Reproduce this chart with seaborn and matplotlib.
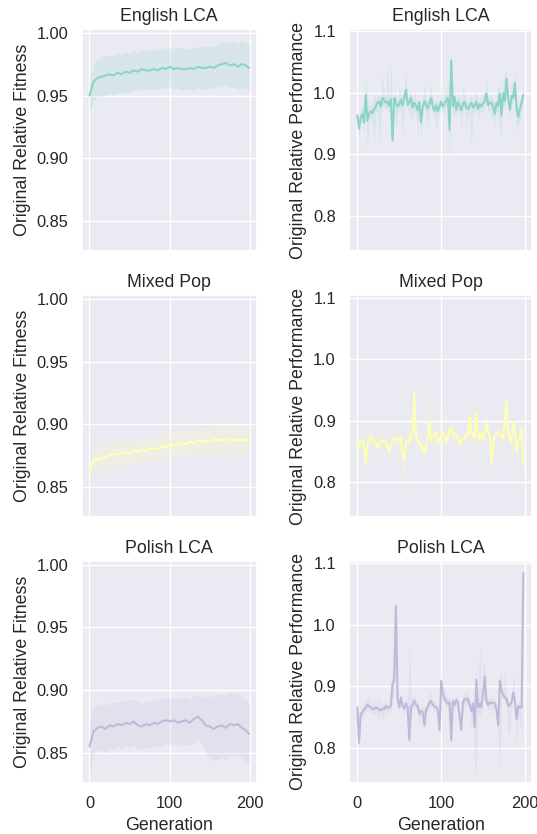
import matplotlib
matplotlib.use("Agg")
import matplotlib.pyplot as plt
import seaborn as sns

# ---- data ----
titles = ["English LCA", "Mixed Pop", "Polish LCA"]

# left column: mean relative fitness (sampled every 5 generations) and CI half-width
fit_gen = [0, 5, 10, 15, 20, 25, 30, 35, 40, 45, 50, 55, 60, 65, 70, 75, 80, 85, 90, 95,
           100, 105, 110, 115, 120, 125, 130, 135, 140, 145, 150, 155, 160, 165, 170, 175,
           180, 185, 190, 195, 199]

eng_fit = [0.950, 0.961, 0.964, 0.965, 0.966, 0.967, 0.966, 0.968, 0.967, 0.969,
           0.968, 0.970, 0.969, 0.971, 0.970, 0.970, 0.971, 0.970, 0.972, 0.971,
           0.973, 0.971, 0.972, 0.971, 0.971, 0.972, 0.971, 0.973, 0.972, 0.972,
           0.973, 0.972, 0.974, 0.975, 0.976, 0.974, 0.975, 0.973, 0.975, 0.974, 0.972]
eng_fit_err = [0.013, 0.014, 0.015, 0.016, 0.016, 0.015, 0.016, 0.016, 0.015, 0.016,
               0.016, 0.016, 0.015, 0.016, 0.016, 0.015, 0.016, 0.016, 0.016, 0.015,
               0.016, 0.016, 0.016, 0.017, 0.016, 0.016, 0.017, 0.016, 0.017, 0.017,
               0.016, 0.017, 0.017, 0.018, 0.017, 0.018, 0.018, 0.018, 0.019, 0.018, 0.019]

mix_fit = [0.864, 0.871, 0.872, 0.873, 0.874, 0.875, 0.876, 0.876, 0.877, 0.878,
           0.877, 0.879, 0.878, 0.880, 0.879, 0.880, 0.881, 0.880, 0.882, 0.882,
           0.884, 0.883, 0.884, 0.885, 0.884, 0.886, 0.885, 0.887, 0.886, 0.887,
           0.886, 0.888, 0.887, 0.888, 0.887, 0.889, 0.887, 0.888, 0.887, 0.888, 0.887]
mix_fit_err = [0.008, 0.009, 0.010, 0.010, 0.010, 0.010, 0.010, 0.010, 0.010, 0.010,
               0.010, 0.010, 0.010, 0.010, 0.010, 0.010, 0.010, 0.010, 0.010, 0.010,
               0.010, 0.010, 0.010, 0.011, 0.010, 0.011, 0.010, 0.011, 0.011, 0.011,
               0.011, 0.011, 0.011, 0.011, 0.011, 0.011, 0.011, 0.011, 0.011, 0.011, 0.011]

pol_fit = [0.855, 0.867, 0.870, 0.871, 0.869, 0.872, 0.871, 0.873, 0.872, 0.874,
           0.873, 0.875, 0.872, 0.871, 0.873, 0.872, 0.874, 0.873, 0.875, 0.876,
           0.875, 0.876, 0.874, 0.875, 0.876, 0.874, 0.877, 0.879, 0.876, 0.872,
           0.871, 0.869, 0.871, 0.872, 0.870, 0.873, 0.872, 0.873, 0.870, 0.868, 0.865]
pol_fit_err = [0.021, 0.019, 0.018, 0.018, 0.019, 0.018, 0.019, 0.018, 0.019, 0.018,
               0.019, 0.018, 0.019, 0.018, 0.019, 0.018, 0.019, 0.018, 0.019, 0.018,
               0.019, 0.018, 0.019, 0.018, 0.019, 0.018, 0.019, 0.018, 0.018, 0.022,
               0.026, 0.025, 0.026, 0.025, 0.026, 0.025, 0.024, 0.025, 0.024, 0.025, 0.024]

# right column: mean relative performance every 2 generations, band above / below the mean
perf_gen = list(range(0, 200, 2))

eng_perf = [0.964, 0.942, 0.960, 0.966, 0.952, 0.997, 0.955, 0.966, 0.970, 0.967,
            0.973, 0.978, 0.984, 0.986, 0.978, 0.992, 0.988, 0.984, 0.986, 0.979,
            0.990, 0.923, 0.992, 0.984, 0.978, 0.982, 0.989, 0.980, 0.994, 1.005,
            0.981, 0.985, 0.992, 0.976, 0.984, 0.980, 0.972, 0.985, 0.952, 0.978,
            0.987, 0.980, 0.975, 0.983, 0.992, 0.978, 0.971, 0.980, 0.970, 0.978,
            0.986, 0.978, 0.982, 0.988, 0.992, 0.940, 1.053, 0.978, 0.994, 0.973,
            0.985, 0.980, 0.972, 0.982, 0.986, 0.976, 0.974, 0.980, 0.984, 0.976,
            0.980, 0.986, 0.974, 0.982, 0.978, 0.983, 0.986, 0.999, 0.980, 0.985,
            0.984, 0.978, 0.966, 0.984, 0.979, 0.999, 0.964, 1.000, 0.987, 1.023,
            0.990, 0.973, 0.995, 0.992, 1.016, 0.974, 0.961, 0.975, 0.985, 0.997]
eng_perf_up = [0.012, 0.012, 0.020, 0.012, 0.025, 0.025, 0.040, 0.012, 0.012, 0.012,
               0.030, 0.012, 0.012, 0.012, 0.012, 0.040, 0.012, 0.012, 0.060, 0.012,
               0.068, 0.050, 0.012, 0.012, 0.012, 0.030, 0.012, 0.012, 0.012, 0.030,
               0.012, 0.012, 0.012, 0.012, 0.020, 0.012, 0.012, 0.012, 0.012, 0.012,
               0.030, 0.012, 0.012, 0.012, 0.020, 0.012, 0.012, 0.012, 0.012, 0.012,
               0.020, 0.012, 0.025, 0.012, 0.030, 0.012, 0.012, 0.012, 0.012, 0.012,
               0.020, 0.012, 0.012, 0.030, 0.012, 0.012, 0.012, 0.012, 0.012, 0.012,
               0.020, 0.012, 0.012, 0.012, 0.012, 0.020, 0.012, 0.030, 0.012, 0.012,
               0.012, 0.012, 0.012, 0.012, 0.030, 0.012, 0.012, 0.020, 0.050, 0.012,
               0.012, 0.012, 0.030, 0.012, 0.020, 0.012, 0.012, 0.012, 0.012, 0.012]
eng_perf_dn = [0.012, 0.012, 0.012, 0.012, 0.020, 0.020, 0.050, 0.012, 0.012, 0.020,
               0.053, 0.012, 0.012, 0.070, 0.012, 0.012, 0.012, 0.012, 0.012, 0.012,
               0.012, 0.012, 0.012, 0.040, 0.012, 0.012, 0.012, 0.050, 0.012, 0.012,
               0.012, 0.012, 0.040, 0.012, 0.012, 0.012, 0.040, 0.012, 0.030, 0.012,
               0.012, 0.012, 0.030, 0.012, 0.012, 0.012, 0.012, 0.040, 0.012, 0.012,
               0.012, 0.012, 0.012, 0.012, 0.012, 0.057, 0.012, 0.012, 0.030, 0.012,
               0.012, 0.012, 0.030, 0.012, 0.012, 0.030, 0.012, 0.012, 0.074, 0.012,
               0.012, 0.012, 0.020, 0.012, 0.012, 0.012, 0.012, 0.012, 0.012, 0.012,
               0.030, 0.012, 0.020, 0.012, 0.012, 0.067, 0.032, 0.012, 0.012, 0.012,
               0.012, 0.012, 0.012, 0.012, 0.012, 0.040, 0.012, 0.020, 0.012, 0.012]

mix_perf = [0.860, 0.856, 0.866, 0.868, 0.858, 0.830, 0.862, 0.868, 0.872, 0.868,
            0.865, 0.866, 0.855, 0.860, 0.869, 0.867, 0.866, 0.865, 0.858, 0.851,
            0.862, 0.868, 0.870, 0.869, 0.871, 0.870, 0.871, 0.845, 0.838, 0.867,
            0.866, 0.864, 0.877, 0.880, 0.944, 0.872, 0.868, 0.863, 0.860, 0.856,
            0.847, 0.860, 0.870, 0.898, 0.867, 0.875, 0.878, 0.880, 0.863, 0.870,
            0.877, 0.880, 0.875, 0.866, 0.874, 0.885, 0.888, 0.880, 0.876, 0.877,
            0.870, 0.861, 0.868, 0.870, 0.872, 0.875, 0.880, 0.906, 0.882, 0.876,
            0.873, 0.912, 0.878, 0.868, 0.880, 0.870, 0.878, 0.896, 0.882, 0.876,
            0.831, 0.865, 0.875, 0.878, 0.880, 0.877, 0.874, 0.872, 0.900, 0.933,
            0.880, 0.870, 0.866, 0.898, 0.885, 0.850, 0.866, 0.875, 0.888, 0.828]
mix_perf_up = [0.010, 0.010, 0.020, 0.010, 0.010, 0.020, 0.030, 0.010, 0.010, 0.010,
               0.010, 0.020, 0.010, 0.010, 0.010, 0.020, 0.010, 0.010, 0.010, 0.010,
               0.010, 0.010, 0.020, 0.010, 0.010, 0.010, 0.010, 0.010, 0.010, 0.010,
               0.035, 0.010, 0.010, 0.020, 0.010, 0.010, 0.010, 0.010, 0.010, 0.010,
               0.010, 0.010, 0.085, 0.057, 0.010, 0.020, 0.010, 0.010, 0.010, 0.010,
               0.010, 0.048, 0.010, 0.010, 0.010, 0.010, 0.010, 0.010, 0.010, 0.020,
               0.010, 0.010, 0.010, 0.010, 0.010, 0.010, 0.010, 0.030, 0.020, 0.010,
               0.010, 0.046, 0.010, 0.010, 0.010, 0.010, 0.010, 0.030, 0.010, 0.010,
               0.010, 0.010, 0.010, 0.010, 0.010, 0.010, 0.010, 0.010, 0.030, 0.010,
               0.010, 0.010, 0.010, 0.010, 0.010, 0.010, 0.010, 0.010, 0.020, 0.010]
mix_perf_dn = [0.010, 0.010, 0.010, 0.010, 0.010, 0.042, 0.010, 0.010, 0.010, 0.010,
               0.010, 0.010, 0.010, 0.010, 0.010, 0.010, 0.010, 0.010, 0.010, 0.020,
               0.010, 0.010, 0.010, 0.010, 0.010, 0.058, 0.010, 0.040, 0.047, 0.010,
               0.010, 0.010, 0.010, 0.010, 0.010, 0.010, 0.010, 0.020, 0.010, 0.030,
               0.010, 0.010, 0.010, 0.010, 0.010, 0.010, 0.010, 0.010, 0.030, 0.010,
               0.010, 0.043, 0.010, 0.010, 0.010, 0.020, 0.010, 0.010, 0.010, 0.010,
               0.010, 0.010, 0.020, 0.010, 0.010, 0.010, 0.010, 0.072, 0.010, 0.010,
               0.010, 0.010, 0.030, 0.010, 0.010, 0.010, 0.010, 0.010, 0.010, 0.010,
               0.024, 0.040, 0.010, 0.010, 0.010, 0.010, 0.010, 0.010, 0.060, 0.010,
               0.010, 0.010, 0.048, 0.010, 0.010, 0.020, 0.010, 0.010, 0.010, 0.040]

pol_perf = [0.866, 0.808, 0.855, 0.858, 0.862, 0.866, 0.870, 0.868, 0.866, 0.864,
            0.863, 0.866, 0.865, 0.862, 0.861, 0.864, 0.863, 0.868, 0.865, 0.866,
            0.868, 0.905, 0.911, 1.031, 0.880, 0.866, 0.882, 0.868, 0.864, 0.872,
            0.866, 0.813, 0.866, 0.870, 0.877, 0.870, 0.868, 0.855, 0.860, 0.858,
            0.837, 0.862, 0.866, 0.874, 0.876, 0.870, 0.868, 0.866, 0.862, 0.829,
            0.909, 0.888, 0.880, 0.876, 0.872, 0.874, 0.813, 0.876, 0.870, 0.878,
            0.874, 0.850, 0.829, 0.874, 0.880, 0.878, 0.880, 0.870, 0.860, 0.872,
            0.834, 0.911, 0.866, 0.872, 0.866, 0.890, 0.916, 0.876, 0.870, 0.874,
            0.873, 0.874, 0.872, 0.862, 0.837, 0.909, 0.892, 0.886, 0.882, 0.880,
            0.868, 0.870, 0.874, 0.890, 0.876, 0.847, 0.868, 0.866, 0.866, 1.084]
pol_perf_up = [0.008, 0.040, 0.008, 0.008, 0.008, 0.008, 0.008, 0.020, 0.008, 0.008,
               0.020, 0.008, 0.008, 0.020, 0.008, 0.008, 0.008, 0.008, 0.008, 0.008,
               0.020, 0.030, 0.060, 0.005, 0.020, 0.008, 0.008, 0.008, 0.008, 0.008,
               0.008, 0.160, 0.030, 0.008, 0.008, 0.008, 0.008, 0.008, 0.008, 0.008,
               0.030, 0.008, 0.008, 0.020, 0.008, 0.008, 0.008, 0.008, 0.008, 0.008,
               0.010, 0.008, 0.020, 0.008, 0.008, 0.008, 0.040, 0.008, 0.008, 0.008,
               0.008, 0.008, 0.030, 0.008, 0.008, 0.015, 0.008, 0.008, 0.008, 0.008,
               0.040, 0.010, 0.008, 0.100, 0.008, 0.050, 0.020, 0.008, 0.008, 0.008,
               0.008, 0.008, 0.008, 0.008, 0.020, 0.010, 0.030, 0.008, 0.050, 0.008,
               0.008, 0.008, 0.008, 0.030, 0.008, 0.008, 0.008, 0.008, 0.008, 0.005]
pol_perf_dn = [0.008, 0.010, 0.008, 0.008, 0.008, 0.008, 0.008, 0.008, 0.008, 0.008,
               0.008, 0.008, 0.020, 0.008, 0.008, 0.020, 0.008, 0.008, 0.008, 0.008,
               0.008, 0.020, 0.030, 0.050, 0.008, 0.008, 0.008, 0.008, 0.008, 0.008,
               0.008, 0.005, 0.008, 0.008, 0.008, 0.008, 0.008, 0.020, 0.008, 0.008,
               0.010, 0.008, 0.008, 0.008, 0.008, 0.008, 0.008, 0.008, 0.008, 0.015,
               0.050, 0.008, 0.008, 0.008, 0.008, 0.008, 0.010, 0.008, 0.008, 0.008,
               0.008, 0.008, 0.008, 0.008, 0.008, 0.008, 0.008, 0.008, 0.030, 0.008,
               0.075, 0.140, 0.008, 0.020, 0.008, 0.008, 0.040, 0.008, 0.008, 0.008,
               0.020, 0.008, 0.008, 0.020, 0.020, 0.150, 0.008, 0.008, 0.008, 0.008,
               0.045, 0.040, 0.008, 0.008, 0.008, 0.045, 0.008, 0.030, 0.045, 0.020]

fit_series = [(eng_fit, eng_fit_err), (mix_fit, mix_fit_err), (pol_fit, pol_fit_err)]
perf_series = [(eng_perf, eng_perf_up, eng_perf_dn),
               (mix_perf, mix_perf_up, mix_perf_dn),
               (pol_perf, pol_perf_up, pol_perf_dn)]

sns.set_theme(style="darkgrid", rc={"xtick.labelsize": 11.8, "ytick.labelsize": 11.8,
                                    "axes.labelsize": 12.8, "axes.titlesize": 12.8})
# Arial-like font as in the reference (set after set_theme)
plt.rcParams["font.family"] = ["Liberation Sans", "DejaVu Sans"]
colors = sns.color_palette("Set3", 3)

fig, axes = plt.subplots(3, 2, figsize=(5.37, 8.34), dpi=100, sharex=True, sharey="col")

# hand-placed axes to match the reference layout
row_bottoms = [0.699, 0.380, 0.0612]
for r in range(3):
    axes[r, 0].set_position([0.1518, row_bottoms[r], 0.3268, 0.2662])
    axes[r, 1].set_position([0.6499, row_bottoms[r], 0.3417, 0.2662])

for r in range(3):
    # left: fitness with CI band
    ax = axes[r, 0]
    mean, err = fit_series[r]
    lo = [m - e for m, e in zip(mean, err)]
    hi = [m + e for m, e in zip(mean, err)]
    ax.fill_between(fit_gen, lo, hi, color=colors[r], alpha=0.2, linewidth=0)
    sns.lineplot(x=fit_gen, y=mean, color=colors[r], ax=ax)
    ax.set_title(titles[r])
    ax.set_ylabel("Original Relative Fitness")

    # right: performance with band
    ax = axes[r, 1]
    mean, up, dn = perf_series[r]
    lo = [m - d for m, d in zip(mean, dn)]
    hi = [m + u for m, u in zip(mean, up)]
    ax.fill_between(perf_gen, lo, hi, color=colors[r], alpha=0.2, linewidth=0)
    sns.lineplot(x=perf_gen, y=mean, color=colors[r], ax=ax)
    ax.set_title(titles[r])
    ax.set_ylabel("Original Relative Performance")

for ax in axes[:, 0]:
    ax.set_ylim(0.826, 1.003)
    ax.set_yticks([0.85, 0.90, 0.95, 1.00])
for ax in axes[:, 1]:
    ax.set_ylim(0.743, 1.104)
    ax.set_yticks([0.8, 0.9, 1.0, 1.1])
for ax in axes.flat:
    ax.set_xlim(-9.95, 208.95)
    ax.set_xticks([0, 100, 200])
for ax in axes[2, :]:
    ax.set_xlabel("Generation")

fig.savefig("out.png", dpi=100)
